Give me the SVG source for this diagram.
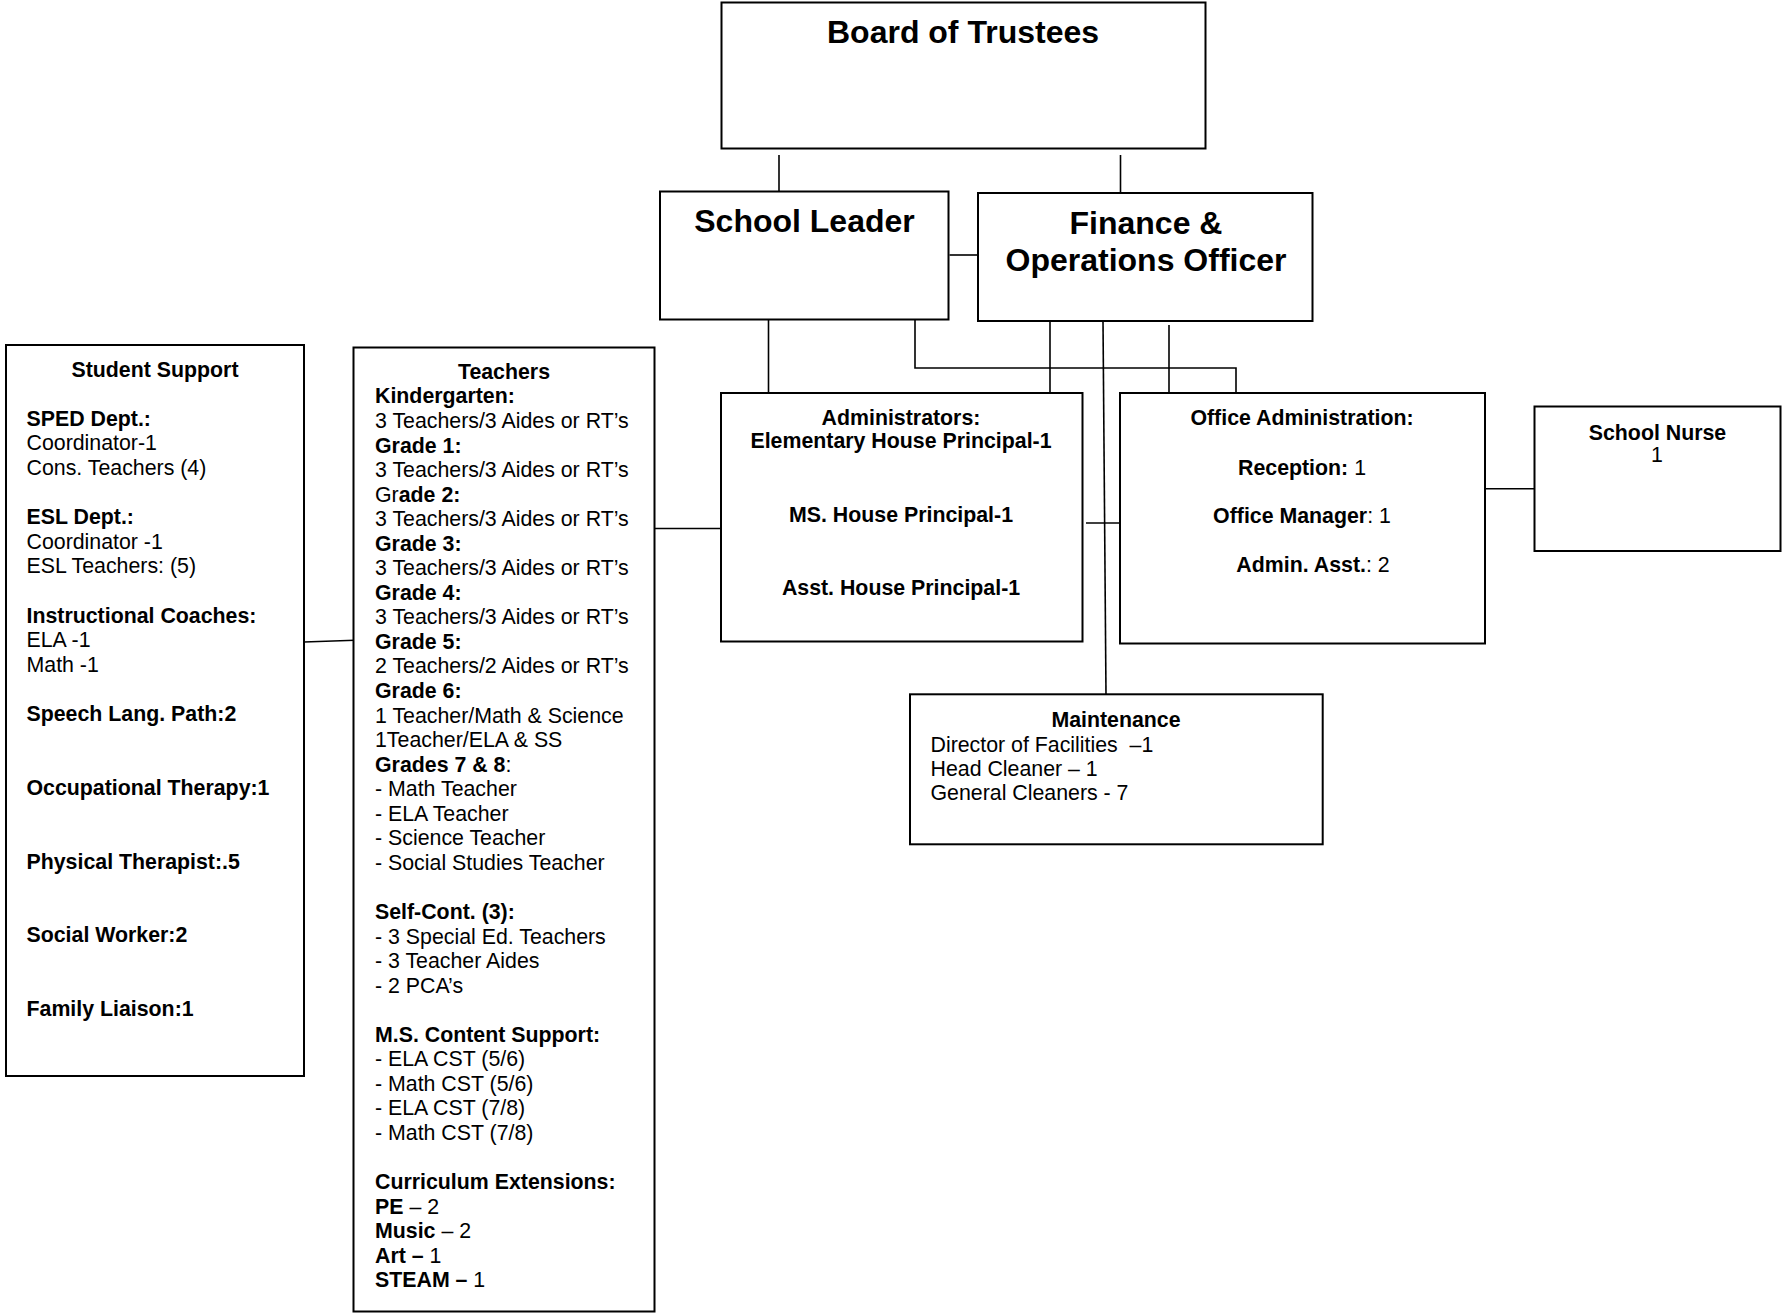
<svg xmlns="http://www.w3.org/2000/svg" width="1786" height="1314" viewBox="0 0 1786 1314">
<style>
.box{fill:#fff;stroke:#000;stroke-width:2}
.ln{stroke:#000;stroke-width:1.6;fill:none}
text{font-family:"Liberation Sans",Arial,sans-serif;font-size:21.33px;fill:#000}
.b{font-weight:bold}
.t{font-size:32px;font-weight:bold}
.c{text-anchor:middle}
</style>
<rect width="1786" height="1314" fill="#fff"/>
<g id="connectors">
<line class="ln" x1="779" y1="155" x2="779" y2="191.5"/>
<line class="ln" x1="1120.5" y1="155" x2="1120.5" y2="193"/>
<line class="ln" x1="949.5" y1="255" x2="978" y2="255"/>
<line class="ln" x1="768.5" y1="319.5" x2="768.5" y2="393"/>
<polyline class="ln" points="915,317 915,368 1236,368 1236,393"/>
<line class="ln" x1="1050" y1="321" x2="1050" y2="393"/>
<line class="ln" x1="1103" y1="321" x2="1106" y2="694"/>
<line class="ln" x1="1169" y1="325" x2="1169" y2="393"/>
<line class="ln" x1="655" y1="528.5" x2="726" y2="528.5"/>
<line class="ln" x1="1086" y1="523" x2="1124" y2="523"/>
<line class="ln" x1="1482" y1="488.7" x2="1535" y2="488.7"/>
<line class="ln" x1="304" y1="642" x2="362" y2="640"/>
</g>
<g id="board">
<rect class="box" x="721.5" y="2.5" width="484" height="146"/>
<text class="t c" x="963" y="43">Board of Trustees</text>
</g>
<g id="school-leader">
<rect class="box" x="660" y="191.5" width="288.5" height="128"/>
<text class="t c" x="804.5" y="232">School Leader</text>
</g>
<g id="finance">
<rect class="box" x="978" y="193" width="334.5" height="128"/>
<text class="t c" x="1146" y="234">Finance &amp;</text>
<text class="t c" x="1146" y="271">Operations Officer</text>
</g>
<g id="student-support">
<rect class="box" x="6" y="345" width="298" height="731"/>
<text class="b c" x="155" y="376.5">Student Support</text>
<text class="b" x="26.5" y="425.7">SPED Dept.:</text>
<text x="26.5" y="450.3">Coordinator-1</text>
<text x="26.5" y="474.9">Cons. Teachers (4)</text>
<text class="b" x="26.5" y="524.1">ESL Dept.:</text>
<text x="26.5" y="548.7">Coordinator -1</text>
<text x="26.5" y="573.3">ESL Teachers: (5)</text>
<text class="b" x="26.5" y="622.5">Instructional Coaches:</text>
<text x="26.5" y="647.1">ELA -1</text>
<text x="26.5" y="671.7">Math -1</text>
<text class="b" x="26.5" y="720.9">Speech Lang. Path:2</text>
<text class="b" x="26.5" y="794.7">Occupational Therapy:1</text>
<text class="b" x="26.5" y="868.5">Physical Therapist:.5</text>
<text class="b" x="26.5" y="942.3">Social Worker:2</text>
<text class="b" x="26.5" y="1016.1">Family Liaison:1</text>
</g>
<g id="teachers">
<rect class="box" x="353.5" y="347.5" width="301" height="964"/>
<text class="b c" x="504" y="378.8">Teachers</text>
<text class="b" x="375" y="403.4">Kindergarten:</text>
<text x="375" y="427.9">3 Teachers/3 Aides or RT’s</text>
<text class="b" x="375" y="452.5">Grade 1:</text>
<text x="375" y="477">3 Teachers/3 Aides or RT’s</text>
<text x="375" y="501.6">Gr<tspan class="b">ade 2:</tspan></text>
<text x="375" y="526.1">3 Teachers/3 Aides or RT’s</text>
<text class="b" x="375" y="550.7">Grade 3:</text>
<text x="375" y="575.2">3 Teachers/3 Aides or RT’s</text>
<text class="b" x="375" y="599.8">Grade 4:</text>
<text x="375" y="624.3">3 Teachers/3 Aides or RT’s</text>
<text class="b" x="375" y="648.9">Grade 5:</text>
<text x="375" y="673.4">2 Teachers/2 Aides or RT’s</text>
<text class="b" x="375" y="698">Grade 6:</text>
<text x="375" y="722.5">1 Teacher/Math &amp; Science</text>
<text x="375" y="747.1">1Teacher/ELA &amp; SS</text>
<text x="375" y="771.6"><tspan class="b">Grades 7 &amp; 8</tspan>:</text>
<text x="375" y="796.2">- Math Teacher</text>
<text x="375" y="820.7">- ELA Teacher</text>
<text x="375" y="845.3">- Science Teacher</text>
<text x="375" y="869.8">- Social Studies Teacher</text>
<text class="b" x="375" y="918.9">Self-Cont. (3):</text>
<text x="375" y="943.5">- 3 Special Ed. Teachers</text>
<text x="375" y="968">- 3 Teacher Aides</text>
<text x="375" y="992.6">- 2 PCA’s</text>
<text class="b" x="375" y="1041.7">M.S. Content Support:</text>
<text x="375" y="1066.3">- ELA CST (5/6)</text>
<text x="375" y="1090.8">- Math CST (5/6)</text>
<text x="375" y="1115.4">- ELA CST (7/8)</text>
<text x="375" y="1139.9">- Math CST (7/8)</text>
<text class="b" x="375" y="1189">Curriculum Extensions:</text>
<text x="375" y="1213.6"><tspan class="b">PE</tspan> – 2</text>
<text x="375" y="1238.1"><tspan class="b">Music</tspan> – 2</text>
<text x="375" y="1262.7"><tspan class="b">Art –</tspan> 1</text>
<text x="375" y="1287.2"><tspan class="b">STEAM –</tspan> 1</text>
</g>
<g id="administrators">
<rect class="box" x="721" y="393" width="361.5" height="248.5"/>
<text class="b c" x="901" y="425.2">Administrators:</text>
<text class="b c" x="901" y="448.2">Elementary House Principal-1</text>
<text class="b c" x="901" y="522.3">MS. House Principal-1</text>
<text class="b c" x="901" y="594.8">Asst. House Principal-1</text>
</g>
<g id="office-administration">
<rect class="box" x="1120" y="393" width="365" height="250.5"/>
<text class="b c" x="1302" y="424.8">Office Administration:</text>
<text class="c" x="1302" y="474.5"><tspan class="b">Reception:</tspan> 1</text>
<text class="c" x="1302" y="523.2"><tspan class="b">Office Manager</tspan>: 1</text>
<text class="c" x="1313" y="572"><tspan class="b">Admin. Asst.</tspan>: 2</text>
</g>
<g id="school-nurse">
<rect class="box" x="1534.5" y="406.5" width="246" height="144.5"/>
<text class="b c" x="1657.5" y="439.5">School Nurse</text>
<text class="c" x="1657" y="461.5">1</text>
</g>
<g id="maintenance">
<rect class="box" x="910" y="694.3" width="412.7" height="150"/>
<text class="b c" x="1116" y="727.3">Maintenance</text>
<text x="930.5" y="751.5" xml:space="preserve">Director of Facilities  –1</text>
<text x="930.5" y="775.8">Head Cleaner – 1</text>
<text x="930.5" y="800.2">General Cleaners - 7</text>
</g>
</svg>
